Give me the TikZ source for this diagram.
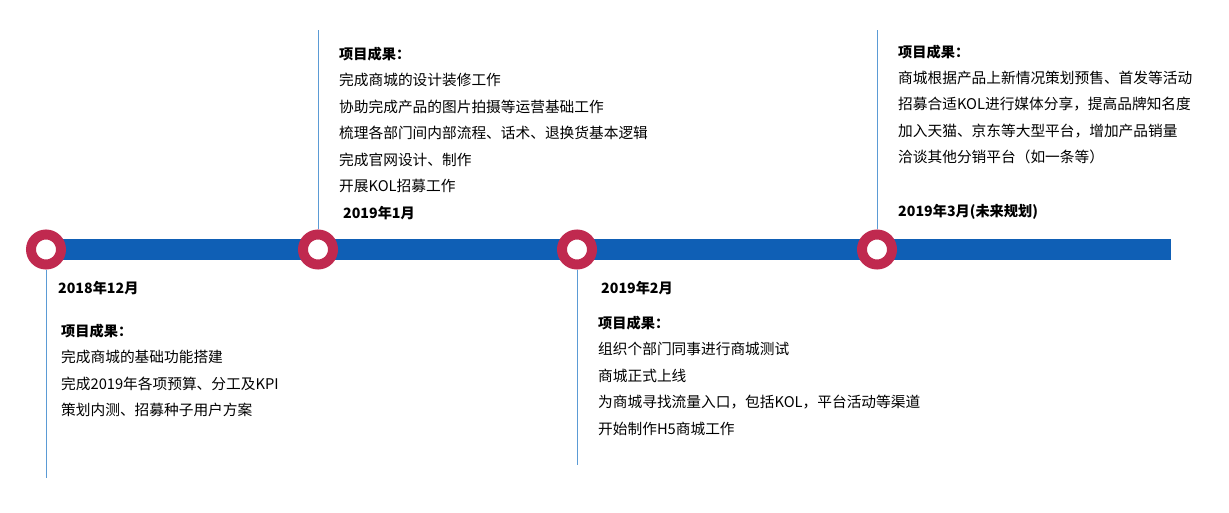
\documentclass[tikz,border=0pt]{standalone}
\usepackage{fontspec}
\newfontfamily\cjk{Noto Sans CJK SC}
\usetikzlibrary{positioning}
\definecolor{barblue}{RGB}{15,95,181}
\definecolor{ringred}{RGB}{192,41,79}
\definecolor{stemblue}{RGB}{91,155,213}

\begin{document}
\begin{tikzpicture}[x=1pt, y=-1pt,
  ring/.style={circle, draw=ringred, line width=10pt, fill=white, minimum size=30pt, inner sep=0pt},
  stem/.style={stemblue, line width=0.9pt},
  datetext/.style={anchor=west, inner sep=0pt, font=\cjk\bfseries\fontsize{14.2}{16}\selectfont},
  itemtext/.style={anchor=west, inner sep=0pt, font=\cjk\fontsize{14.7}{16}\selectfont}]
  \useasboundingbox (0,0) rectangle (1229,513);
  % timeline bar and rings
  \coordinate (t1) at (46,249.5); \coordinate (t2) at (318,249.5);
  \coordinate (t3) at (577,249.5); \coordinate (t4) at (877,249.5);
  \coordinate (barend) at (1171,249.5);
  \draw[barblue, line width=20pt] (t1) -- (barend);
  \foreach \i in {1,2,3,4} {
    \node[ring] (m\i) at (t\i) {};
  }
  % stems
  \coordinate (s1) at (46,478); \coordinate (s2) at (318,30);
  \coordinate (s3) at (577,465); \coordinate (s4) at (877,30);
  \draw[stem] (m1.south) -- (s1);
  \draw[stem] (m2.north) -- (s2);
  \draw[stem] (m3.south) -- (s3);
  \draw[stem] (m4.north) -- (s4);
  % 2018-12
  \node[datetext] (d1) at (58,288) {2018年12月};
  \node[datetext] (h1) at (61,331) {项目成果：};
  \foreach \t [count=\i] in {{完成商城的基础功能搭建},{完成2019年各项预算、分工及KPI},{策划内测、招募种子用户方案}}
    \node[itemtext] (a1-\i) at (61,357+26.6*\i-26.6) {\t};
  % 2019-1
  \node[datetext] (h2) at (339,54) {项目成果：};
  \foreach \t [count=\i] in {{完成商城的设计装修工作},{协助完成产品的图片拍摄等运营基础工作},{梳理各部门间内部流程、话术、退换货基本逻辑},{完成官网设计、制作},{开展KOL招募工作}}
    \node[itemtext] (a2-\i) at (339,80+26.6*\i-26.6) {\t};
  \node[datetext] (d2) at (343,213) {2019年1月};
  % 2019-2
  \node[datetext] (d3) at (601,288) {2019年2月};
  \node[datetext] (h3) at (598,323) {项目成果：};
  \foreach \t [count=\i] in {{组织个部门同事进行商城测试},{商城正式上线},{为商城寻找流量入口，包括KOL，平台活动等渠道},{开始制作H5商城工作}}
    \node[itemtext] (a3-\i) at (598,349+26.6*\i-26.6) {\t};
  % 2019-3
  \node[datetext] (h4) at (898,52) {项目成果：};
  \foreach \t [count=\i] in {{商城根据产品上新情况策划预售、首发等活动},{招募合适KOL进行媒体分享，提高品牌知名度},{加入天猫、京东等大型平台，增加产品销量},{洽谈其他分销平台（如一条等）}}
    \node[itemtext] (a4-\i) at (898,78+26.4*\i-26.4) {\t};
  \node[datetext] (d4) at (898,212) {2019年3月(未来规划)};
\end{tikzpicture}
\end{document}
